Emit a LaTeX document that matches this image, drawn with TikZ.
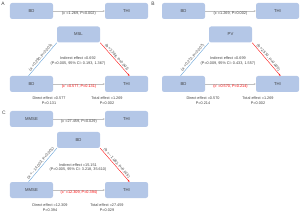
\documentclass[tikz,border=0pt]{standalone}
\usepackage{fontspec}
\setmainfont{Liberation Sans}
\usetikzlibrary{arrows.meta,positioning,calc}
\definecolor{BoxBlue}{HTML}{B4C7E7}
\definecolor{LineBlue}{HTML}{5B9BD5}
\definecolor{PathRed}{HTML}{FF0000}
\definecolor{ArrowGray}{HTML}{BFBFBF}
\definecolor{TextGray}{HTML}{404040}

\tikzset{
  varbox/.style={fill=BoxBlue, rounded corners=3pt, minimum width=21.5mm, minimum height=8mm, inner sep=0pt, text=TextGray, font=\fontsize{6}{7}\selectfont},
  effect/.style={text=TextGray, font=\fontsize{5.4}{6.6}\selectfont, align=center, inner sep=1pt},
  cpath/.style={draw=ArrowGray, -{Stealth[length=3pt,width=2.5pt]}, line width=0.5pt},
  apath/.style={draw=LineBlue, line width=0.5pt},
  bpath/.style={draw=PathRed, -{Stealth[length=3pt,width=2.5pt]}, line width=0.5pt},
  panel/.style={font=\fontsize{7}{8}\selectfont, text=TextGray, inner sep=0pt}
}

\begin{document}
\begin{tikzpicture}[x=0.5mm, y=-0.5mm]
  \useasboundingbox (0,0) rectangle (300,214);

  % panel A
  \node[panel] (labA) at (3,4) {A};
  \node[varbox] (bdA) at (31.5,11) {BD};
  \node[varbox] (thiA) at (126.5,11) {THI};
  \node[varbox] (mslA) at (78.5,34.5) {MSL};
  \node[varbox] (bdAb) at (31.5,84) {BD};
  \node[varbox] (thiAb) at (126.5,84) {THI};
  \draw[cpath] (bdA) -- node[effect, below=0pt] {(c =1.269, P=0.002)} (thiA);
  \draw[apath] ($(bdAb.north)+(-3,0)$) -- node[effect, midway, sloped, above] {(a =0.290, P=0.001)} (mslA.south west);
  \draw[bpath] (mslA.south east) -- node[effect, midway, sloped, above] {(b =2.386, P=0.001)} ($(thiAb.north)+(3,0)$);
  \draw[cpath] (bdAb) -- node[effect, below=0pt, text=PathRed] {(c' =0.577, P=0.131)} (thiAb);
  \node[effect] (indA) at (78,61) {Indirect effect =0.692\\(P=0.005, 95\% CI: 0.193, 1.367)};
  \node[effect] (dirA) at (49,100.5) {Direct effect =0.577\\P=0.131};
  \node[effect] (totA) at (107,100.5) {Total effect =1.269\\P=0.002};

  % panel B
  \node[panel] (labB) at (153,4) {B};
  \node[varbox] (bdB) at (183.5,11) {BD};
  \node[varbox] (thiB) at (277.5,11) {THI};
  \node[varbox] (pvB) at (230.5,34.5) {PV};
  \node[varbox] (bdBb) at (183.5,84) {BD};
  \node[varbox] (thiBb) at (277.5,84) {THI};
  \draw[cpath] (bdB) -- node[effect, below=0pt] {(c =1.269, P=0.002)} (thiB);
  \draw[apath] ($(bdBb.north)+(-3,0)$) -- node[effect, midway, sloped, above] {(a =0.272, P=0.007)} (pvB.south west);
  \draw[bpath] (pvB.south east) -- node[effect, midway, sloped, above] {(b =2.570, P=0.005)} ($(thiBb.north)+(3,0)$);
  \draw[cpath] (bdBb) -- node[effect, below=0pt, text=PathRed] {(c' =0.570, P=0.214)} (thiBb);
  \node[effect] (indB) at (228,61) {Indirect effect =0.699\\(P=0.009, 95\% CI: 0.433, 1.557)};
  \node[effect] (dirB) at (203,100.5) {Direct effect =0.570\\P=0.214};
  \node[effect] (totB) at (258,100.5) {Total effect =1.269\\P=0.002};

  % panel C
  \node[panel] (labC) at (4,113) {C};
  \node[varbox] (mmseC) at (31.5,119) {MMSE};
  \node[varbox] (thiC) at (126.5,119) {THI};
  \node[varbox] (bdC) at (78.5,140) {BD};
  \node[varbox] (mmseCb) at (31.5,190) {MMSE};
  \node[varbox] (thiCb) at (126.5,190) {THI};
  \draw[cpath] (mmseC) -- node[effect, below=0pt] {(c =27.459, P=0.029)} (thiC);
  \draw[apath] ($(mmseCb.north)+(-3,0)$) -- node[effect, midway, sloped, above] {(a =$-$14.003, P<0.001)} (bdC.south west);
  \draw[bpath] (bdC.south east) -- node[effect, midway, sloped, above] {(b =$-$1.082, P=0.015)} ($(thiCb.north)+(3,0)$);
  \draw[cpath] (mmseCb) -- node[effect, below=0pt, text=PathRed] {(c' =12.309, P=0.394)} (thiCb);
  \node[effect] (indC) at (78,167.5) {Indirect effect =15.151\\(P=0.005, 95\% CI: 3.218, 35.610)};
  \node[effect] (dirC) at (50,207.5) {Direct effect =12.309\\P=0.394};
  \node[effect] (totC) at (107,207.5) {Total effect =27.459\\P=0.029};
\end{tikzpicture}
\end{document}
